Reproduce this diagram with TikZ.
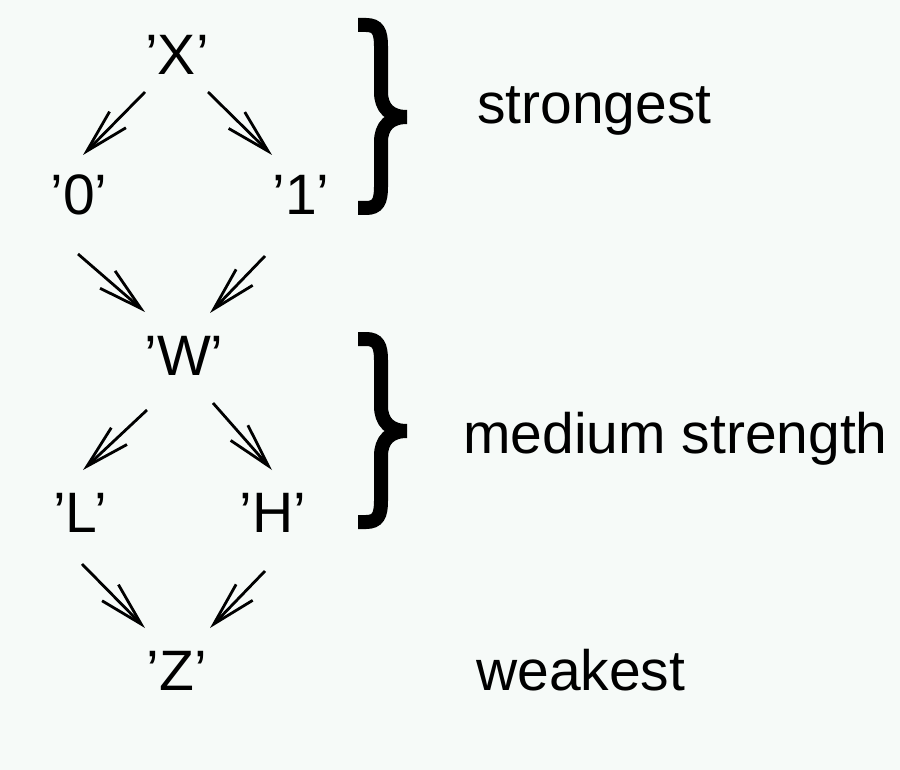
\documentclass[tikz,border=0pt]{standalone}
\usepackage{fontspec}
\setmainfont{Liberation Sans}
\usetikzlibrary{arrows.meta}
\definecolor{bgc}{HTML}{F6FAF8}
\begin{document}
\begin{tikzpicture}[x=1pt,y=-1pt,
  lbl/.style={anchor=base,inner sep=0pt,font=\fontsize{57}{60}\selectfont},
  side/.style={anchor=base west,inner sep=0pt,font=\fontsize{57}{60}\selectfont},
  arr/.style={line width=2.8pt,-{Straight Barb[length=44pt,width=23pt,line width=2.8pt]}},
  bracestroke/.style={line width=14pt,line cap=butt},
  curly/.pic={
    \draw[bracestroke] (-49,-92) -- (-41,-92) .. controls (-29,-92) and (-26,-85) .. (-26,-71)
      -- (-26,-25) .. controls (-26,-9) and (-17,0) .. (0,0);
    \draw[bracestroke] (-49,91) -- (-41,91) .. controls (-29,91) and (-26,84) .. (-26,70)
      -- (-26,25) .. controls (-26,9) and (-17,0) .. (0,0);
  }]
\fill[bgc] (0,0) rectangle (900,770);
\useasboundingbox (0,0) rectangle (900,770);

\node[lbl] (X)  at (177,75)  {’X’};
\node[lbl] (N0) at (79,215)  {’0’};
\node[lbl] (N1) at (301,215) {’1’};
\node[lbl] (W)  at (184,375) {’W’};
\node[lbl] (L)  at (80,532)  {’L’};
\node[lbl] (H)  at (273,532) {’H’};
\node[lbl] (Z)  at (177,690) {’Z’};

\node[side] (s1) at (477,124) {strongest};
\node[side] (s2) at (463,453) {medium strength};
\node[side] (s3) at (476,690) {weakest};

\draw[arr] ([shift={(-32,17)}]X.base) -- ([shift={(4,-60)}]N0.base);
\draw[arr] ([shift={(31,17)}]X.base) -- ([shift={(-29,-60)}]N1.base);
\draw[arr] ([shift={(-1,39)}]N0.base) -- ([shift={(-39,-63)}]W.base);
\draw[arr] ([shift={(-36,41)}]N1.base) -- ([shift={(26,-62)}]W.base);
\draw[arr] ([shift={(-37,35)}]W.base) -- ([shift={(3,-62)}]L.base);
\draw[arr] ([shift={(29,28)}]W.base) -- ([shift={(-1,-62)}]H.base);
\draw[arr] ([shift={(2,32)}]L.base) -- ([shift={(-32,-62)}]Z.base);
\draw[arr] ([shift={(-8,39)}]H.base) -- ([shift={(33,-62)}]Z.base);

\pic at (407,117) {curly};
\pic at (407,431) {curly};
\end{tikzpicture}
\end{document}
